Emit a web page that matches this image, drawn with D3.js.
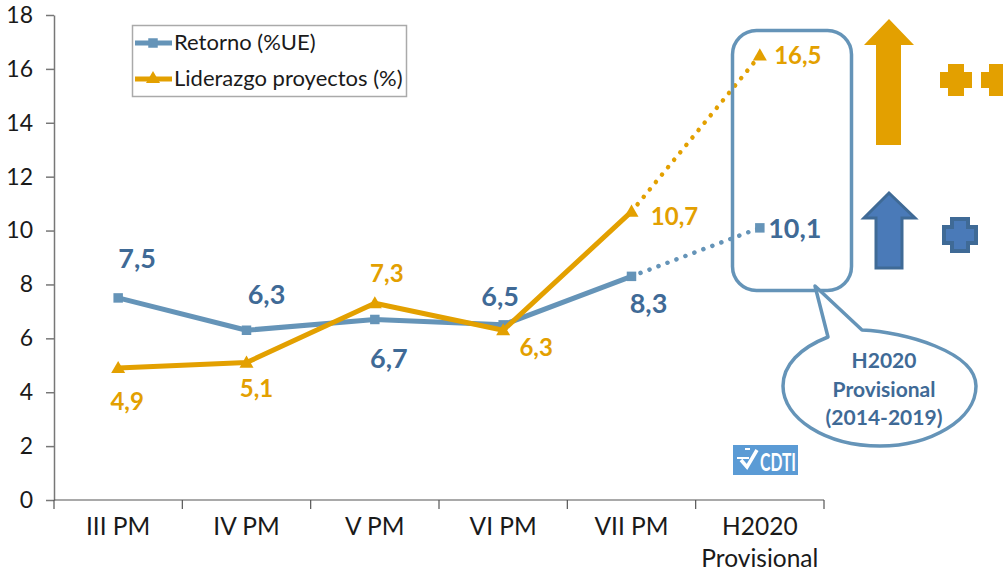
<!DOCTYPE html>
<html><head><meta charset="utf-8">
<script src="https://cdn.jsdelivr.net/npm/d3@7"></script>
<style>html,body{margin:0;padding:0;background:#fff}svg{display:block}text{font-family:Lato,"Open Sans",sans-serif}</style>
</head><body><svg id="c" width="1003" height="574"></svg>
<script>
const categories=["III PM","IV PM","V PM","VI PM","VII PM","H2020|Provisional"];
const retorno=[7.5,6.3,6.7,6.5,8.3,10.1];
const liderazgo=[4.9,5.1,7.3,6.3,10.7,16.5];
const yTicks=[0,2,4,6,8,10,12,14,16,18];
const retornoLabels=["7,5","6,3","6,7","6,5","8,3","10,1"];
const liderazgoLabels=["4,9","5,1","7,3","6,3","10,7","16,5"];
const retornoOffsets=[[19,-38],[20,-34],[14,41],[-3,-27],[17,29],[35,2]];
const liderazgoOffsets=[[9,34],[10,26],[12,-29],[33,18],[43,5],[38,1]];
const BLUE="#6594b8",DBLUE="#3f6a96",ORANGE="#e3a000";

const svg=d3.select("#c");
const x=d3.scaleBand().domain(categories).range([54,824]);
const y=d3.scaleLinear().domain([0,18]).range([500,15]);
const cx=(i)=>x(categories[i])+x.bandwidth()/2;

// axes
const ga=svg.append("g").attr("transform","translate(54,0)")
  .call(d3.axisLeft(y).tickValues(yTicks).tickSize(8).tickSizeOuter(0).tickPadding(13));
ga.selectAll("text").attr("font-size",23).attr("fill","#1a1a1a");
ga.selectAll("line,path").attr("stroke","#777").attr("stroke-width",1.5);
const gb=svg.append("g").attr("transform","translate(0,500)")
  .call(d3.axisBottom(x).tickSize(0).tickFormat(""));
gb.selectAll("path").attr("stroke","#555").attr("stroke-width",1.2).attr("d","M54,0H824");
gb.selectAll(".sep").data(d3.range(categories.length+1)).join("line").attr("class","sep")
  .attr("x1",i=>54+i*x.bandwidth()).attr("x2",i=>54+i*x.bandwidth()).attr("y1",0).attr("y2",9)
  .attr("stroke","#555").attr("stroke-width",1.2);
categories.forEach((c,i)=>{
  c.split("|").forEach((s,k)=>svg.append("text").attr("x",cx(i)).attr("y",535+k*32)
    .attr("text-anchor","middle").attr("font-size",24.5).attr("fill","#1a1a1a").text(s));
});

// series
const line=d3.line().x(d=>cx(d.i)).y(d=>y(d.v));
function series(vals,color,marker,labels,offsets,labelColor,labelSize,weight){
  const pts=vals.map((v,i)=>({v,i}));
  svg.append("path").attr("d",line(pts.slice(0,5))).attr("fill","none").attr("stroke",color).attr("stroke-width",5).attr("stroke-linejoin","round");
  svg.append("path").attr("d",line(pts.slice(4))).attr("fill","none").attr("stroke",color).attr("stroke-width",4.5).attr("stroke-dasharray","0.1 9.5").attr("stroke-linecap","round");
  svg.selectAll(null).data(pts).join("path")
    .attr("transform",d=>`translate(${cx(d.i)},${y(d.v)+marker.dy})`)
    .attr("d",d3.symbol().type(marker.type).size(marker.size)).attr("fill",color);
  svg.selectAll(null).data(pts).join("text")
    .attr("x",d=>cx(d.i)+offsets[d.i][0]).attr("y",d=>y(d.v)+offsets[d.i][1]+8)
    .attr("text-anchor","middle").attr("font-size",labelSize).attr("font-weight",weight).attr("fill",labelColor)
    .text(d=>labels[d.i]);
}
series(retorno,BLUE,{type:d3.symbolSquare,size:90,dy:0},retornoLabels,retornoOffsets,DBLUE,27,700);
series(liderazgo,ORANGE,{type:d3.symbolTriangle,size:85,dy:1},liderazgoLabels,liderazgoOffsets,ORANGE,24,700);

// legend
svg.append("rect").attr("x",132.5).attr("y",25.5).attr("width",274).attr("height",71).attr("fill","#fff").attr("stroke","#aaa").attr("stroke-width",1.5);
[[BLUE,d3.symbolSquare,90,43,"Retorno (%UE)"],[ORANGE,d3.symbolTriangle,85,79,"Liderazgo proyectos (%)"]].forEach(([col,t,s,ly,txt])=>{
  svg.append("line").attr("x1",135).attr("x2",172).attr("y1",ly).attr("y2",ly).attr("stroke",col).attr("stroke-width",5);
  svg.append("path").attr("transform",`translate(153,${ly})`).attr("d",d3.symbol().type(t).size(s)).attr("fill",col);
  svg.append("text").attr("x",174).attr("y",ly+7).attr("font-size",22).attr("fill","#1a1a1a").text(txt);
});

// rounded box
svg.append("rect").attr("x",732.5).attr("y",30.5).attr("width",119).attr("height",260).attr("rx",24).attr("fill","none").attr("stroke",BLUE).attr("stroke-width",3.5);

// callout
svg.append("path").attr("d","M815,286 L862,330 C905,332 976,352 976,386 C976,420 930,446 880,446 C825,446 783,418 783,386 C783,365 800,348 828,337 Z")
  .attr("fill","#fff").attr("stroke",BLUE).attr("stroke-width",3.5).attr("stroke-linejoin","round");
["H2020","Provisional","(2014-2019)"].forEach((t,i)=>svg.append("text").attr("x",884).attr("y",368+i*28.5)
  .attr("text-anchor","middle").attr("font-size",21).attr("font-weight",700).attr("fill",DBLUE).text(t));

// arrows
svg.append("path").attr("d","M889,19 L914,45 L901,45 L901,145 L876,145 L876,45 L864,45 Z").attr("fill",ORANGE);
svg.append("path").attr("d","M889,193 L915,218 L902,218 L902,268 L876,268 L876,218 L864,218 Z").attr("fill","#4a7ab8").attr("stroke",DBLUE).attr("stroke-width",3);

// plus signs
const plus=(px,py,fill,stroke)=>svg.append("path")
  .attr("d",`M${px-8},${py-15}h16v8h8v16h-8v8h-16v-8h-8v-16h8z`)
  .attr("fill",fill).attr("stroke",stroke||"none").attr("stroke-width",stroke?4:0);
plus(956,79,ORANGE);plus(997,79,ORANGE);
plus(960,234,"#4a7ab8",DBLUE);

// logo
svg.append("rect").attr("x",733).attr("y",445).attr("width",65).attr("height",30).attr("fill","#5b9bd5");
svg.append("path").attr("d","M741,460l6,7 10,-17").attr("fill","none").attr("stroke","#fff").attr("stroke-width",3.5);
svg.append("path").attr("d","M737,458h12M745,449h5").attr("fill","none").attr("stroke","#fff").attr("stroke-width",2);
svg.append("text").attr("x",778).attr("y",471).attr("text-anchor","middle").attr("font-size",24).attr("font-weight",700).attr("fill","#fff")
  .attr("textLength",36).attr("lengthAdjust","spacingAndGlyphs").text("CDTI");
</script></body></html>
